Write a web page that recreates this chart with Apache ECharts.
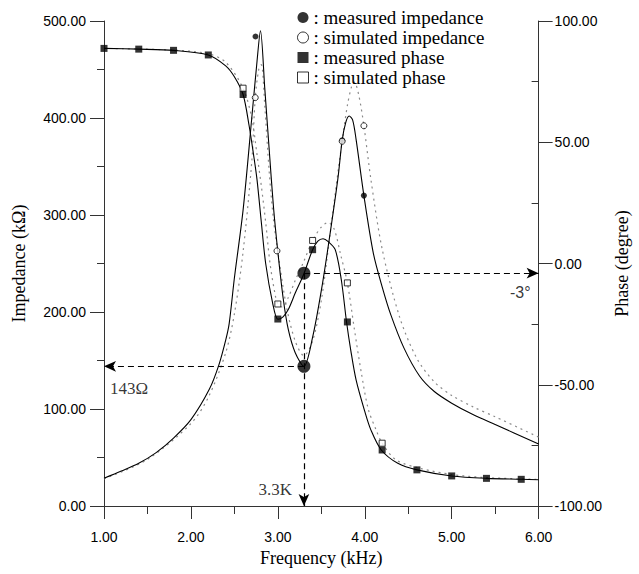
<!DOCTYPE html>
<html><head><meta charset="utf-8">
<script src="https://cdn.jsdelivr.net/npm/echarts@6/dist/echarts.min.js"></script>
<style>html,body{margin:0;padding:0;background:#fff}#c{width:639px;height:574px}</style>
</head><body><div id="c"></div>
<script>
// ---- axis ranges / ticks ----
const freqMin = 1, freqMax = 6, freqStep = 1;
const impMin = 0, impMax = 500, impStep = 100;
const phMin = -100, phMax = 100, phStep = 50;
const phInnerTicks = [-75, -25, 25, 75];

// ---- fitted / measured impedance curve (kOhm) ----
const impMeasF = [1.0,1.2,1.4,1.6,1.8,2.0,2.21,2.32,2.4,2.44,2.5,2.6,2.7,2.76,2.8,2.85,2.9,2.95,3.0,3.06,3.12,3.2,3.3,3.4,3.5,3.58,3.69,3.74,3.78,3.82,3.86,3.9,3.99,4.1,4.2,4.3,4.45,4.63,4.8,5.0,5.25,5.5,6.0];
const impMeasZ = [28.6,36,44,55,70,89,120,145,171,188,235,305,400,458,490,430,368,308,262,215,182,158,144,174,222,268,337,377,395,402,398,378,320,260,226,197,163,134,118,106,94,84,64];

// ---- simulated impedance curve ----
const impSimF = [1.0,1.5,2.0,2.2,2.4,2.5,2.6,2.7,2.74,2.78,2.81,2.85,2.9,2.95,3.0,3.1,3.2,3.3,3.4,3.5,3.6,3.7,3.74,3.8,3.85,3.88,3.93,3.99,4.07,4.2,4.4,4.6,4.8,5.0,5.25,5.5,6.0];
const impSimZ = [28,48,85,112,158,198,262,355,421,450,455,412,345,295,262,205,170,155,170,212,280,350,376,413,433,437,424,392,337,265,195,152,128,114,102,92,71];

// ---- measured phase curve (degree) ----
const phMeasF = [1.0,1.4,1.8,2.2,2.4,2.5,2.6,2.67,2.72,2.76,2.81,2.86,2.94,3.0,3.06,3.12,3.2,3.3,3.4,3.46,3.52,3.58,3.66,3.73,3.79,3.84,3.9,4.0,4.07,4.19,4.38,4.6,5.0,5.4,5.8,6.0];
const phMeasV = [88.7,88.4,87.9,86.0,81.5,77,69.7,56.7,45,34.7,17,0,-16.3,-23,-22,-19,-12.2,-4.2,5.7,9.2,10.2,9,5.7,-6.7,-24,-36,-48,-61,-68.6,-76.9,-82.4,-85.1,-87.6,-88.6,-89.0,-89.2];

// ---- simulated phase curve ----
const phSimF = [1.0,1.8,2.2,2.4,2.6,2.7,2.76,2.81,2.86,2.91,2.97,3.0,3.05,3.12,3.2,3.3,3.4,3.5,3.58,3.65,3.72,3.8,3.88,3.96,4.04,4.13,4.2,4.36,4.64,5.0,5.4,6.0];
const phSimV = [88.7,88,86.5,83,72.3,60,45,32,17,0,-13,-16.7,-18,-14,-7,1,9.5,15,17,14,4,-8,-27,-45,-60,-68.6,-74.1,-81,-84.5,-87,-88.3,-89];

// ---- marker points ----
const impMeasPtF = [2.743,3.74,3.99];
const impMeasPtZ = [484,377,320];
const impSimPtF = [2.74,2.99,3.74,3.99];
const impSimPtZ = [421,263,376,392];
const phMeasPtF = [1.0,1.4,1.8,2.2,2.6,3.0,3.4,3.8,4.2,4.6,5.0,5.4,5.8];
const phMeasPtV = [88.7,88.4,87.9,86.0,69.7,-22.9,5.7,-24.1,-76.9,-85.1,-87.6,-88.6,-89.0];
const phSimPtF = [2.6,3.0,3.4,3.8,4.2];
const phSimPtV = [72.3,-16.7,9.5,-8.0,-74.1];

// ---- resonance annotation ----
const markF = 3.3, markZ = 144, markPhase = -4;
const impAnnoF = [1.0, 3.3];
const impAnnoV = [121, 16.6];
const impAnnoText = ['143Ω', '3.3K'];
const phAnnoF = [6.0];
const phAnnoV = [-12];
const phAnnoText = ['-3°'];

// ---- legend names ----
const legendNames = ['measured impedance','simulated impedance','measured phase','simulated phase'];

const zip = (a, b) => a.map((v, i) => [v, b[i]]);
const serif = 'Liberation Serif, Times New Roman, serif';
const sans = 'Liberation Sans, Arial, sans-serif';
const axisCol = '#333';

const chart = echarts.init(document.getElementById('c'), null, {renderer: 'svg'});
const fmt2 = v => v.toFixed(2);

const solid = {color: '#000', width: 1.1};
const dotted = {color: '#8a8a8a', width: 1.2, type: [2, 4]};

chart.setOption({
  animation: false,
  backgroundColor: '#fff',
  grid: {left: 104, right: 97, top: 21, bottom: 68},
  legend: {
    orient: 'vertical', left: 297, top: 8, padding: 0,
    itemWidth: 11, itemHeight: 11, itemGap: 1, selectedMode: false,
    formatter: n => ': ' + n,
    textStyle: {fontFamily: serif, fontSize: 19, color: '#000'},
    data: [
      {name: legendNames[0], icon: 'circle', itemStyle: {color: '#000', borderWidth: 0}},
      {name: legendNames[1], icon: 'circle', itemStyle: {color: '#fff', borderColor: '#000', borderWidth: 1}},
      {name: legendNames[2], icon: 'rect', itemStyle: {color: '#000', borderWidth: 0}},
      {name: legendNames[3], icon: 'rect', itemStyle: {color: '#fff', borderColor: '#000', borderWidth: 1}}
    ]
  },
  xAxis: {
    type: 'value', min: freqMin, max: freqMax, interval: freqStep,
    axisLine: {lineStyle: {color: axisCol, width: 1}},
    axisTick: {length: 13, lineStyle: {color: axisCol}},
    minorTick: {show: true, splitNumber: 2, length: 8, lineStyle: {color: axisCol}},
    splitLine: {show: false},
    axisLabel: {formatter: fmt2, fontFamily: sans, fontSize: 14, color: '#000', margin: 24},
    name: 'Frequency (kHz)', nameLocation: 'middle', nameGap: 36,
    nameTextStyle: {fontFamily: serif, fontSize: 18, color: '#000'}
  },
  yAxis: [
    {
      type: 'value', position: 'left', min: impMin, max: impMax, interval: impStep,
      axisLine: {show: true, lineStyle: {color: axisCol, width: 1}},
      axisTick: {show: true, length: 14, lineStyle: {color: axisCol}},
      minorTick: {show: true, splitNumber: 2, length: 7, lineStyle: {color: axisCol}},
      splitLine: {show: false},
      axisLabel: {formatter: fmt2, fontFamily: sans, fontSize: 14, color: '#000', margin: 18},
      name: 'Impedance (kΩ)', nameLocation: 'middle', nameRotate: 90, nameGap: 76,
      nameTextStyle: {fontFamily: serif, fontSize: 18, color: '#000'}
    },
    {
      type: 'value', position: 'right', min: phMin, max: phMax, interval: phStep,
      axisLine: {show: true, lineStyle: {color: axisCol, width: 1}},
      axisTick: {show: true, length: 14, lineStyle: {color: axisCol}},
      splitLine: {show: false},
      axisLabel: {formatter: fmt2, fontFamily: sans, fontSize: 14, color: '#000', margin: 16},
      name: 'Phase (degree)', nameLocation: 'middle', nameRotate: 90, nameGap: 68,
      nameTextStyle: {fontFamily: serif, fontSize: 18, color: '#000'}
    },
    {
      type: 'value', position: 'right', min: phMin, max: phMax, interval: phStep,
      axisLine: {show: false},
      axisTick: {show: true, inside: true, length: 7, customValues: phInnerTicks, lineStyle: {color: axisCol}},
      axisLabel: {show: false},
      splitLine: {show: false}
    }
  ],
  series: [
    {name: 'imp-sim-curve', type: 'line', yAxisIndex: 0, data: zip(impSimF, impSimZ), showSymbol: false, symbol: 'none', smooth: 0.3, lineStyle: dotted, z: 2},
    {name: 'ph-sim-curve', type: 'line', yAxisIndex: 1, data: zip(phSimF, phSimV), showSymbol: false, symbol: 'none', smooth: 0.3, lineStyle: dotted, z: 2},
    {name: 'imp-meas-curve', type: 'line', yAxisIndex: 0, data: zip(impMeasF, impMeasZ), showSymbol: false, symbol: 'none', smooth: 0.3, lineStyle: solid, z: 3},
    {name: 'ph-meas-curve', type: 'line', yAxisIndex: 1, data: zip(phMeasF, phMeasV), showSymbol: false, symbol: 'none', smooth: 0.3, lineStyle: solid, z: 3},
    {name: legendNames[0], type: 'scatter', yAxisIndex: 0, data: zip(impMeasPtF, impMeasPtZ), symbol: 'circle', symbolSize: 6, itemStyle: {color: '#000'}, z: 5},
    {name: legendNames[1], type: 'scatter', yAxisIndex: 0, data: zip(impSimPtF, impSimPtZ), symbol: 'circle', symbolSize: 6, itemStyle: {color: '#fff', borderColor: '#000', borderWidth: 1}, z: 5},
    {name: legendNames[2], type: 'scatter', yAxisIndex: 1, data: zip(phMeasPtF, phMeasPtV), symbol: 'rect', symbolSize: 7, itemStyle: {color: '#000'}, z: 5},
    {name: legendNames[3], type: 'scatter', yAxisIndex: 1, data: zip(phSimPtF, phSimPtV), symbol: 'rect', symbolSize: 6, itemStyle: {color: '#fff', borderColor: '#000', borderWidth: 1}, z: 5},
    {
      name: 'res-imp', type: 'scatter', yAxisIndex: 0, data: [[markF, markZ]], symbol: 'circle', symbolSize: 13,
      itemStyle: {color: '#000'}, z: 6,
      markLine: {
        silent: true, symbol: ['none', 'arrow'], symbolSize: [8, 12], precision: 4,
        lineStyle: {color: '#000', width: 1.2, type: [6, 4]}, label: {show: false},
        data: [[{coord: [markF, markZ]}, {coord: [freqMin, markZ]}]]
      }
    },
    {
      name: 'res-ph', type: 'scatter', yAxisIndex: 1, data: [[markF, markPhase]], symbol: 'circle', symbolSize: 13,
      itemStyle: {color: '#000'}, z: 6,
      markLine: {
        silent: true, symbol: ['none', 'arrow'], symbolSize: [8, 12], precision: 4,
        lineStyle: {color: '#000', width: 1.2, type: [6, 4]}, label: {show: false},
        data: [
          [{coord: [markF, markPhase]}, {coord: [freqMax, markPhase]}],
          [{coord: [markF, markPhase]}, {coord: [markF, phMin]}]
        ]
      }
    },
    {
      name: 'anno-imp', type: 'scatter', yAxisIndex: 0, symbolSize: 0, silent: true, z: 7,
      data: impAnnoF.map((f, i) => ({value: [f, impAnnoV[i]], label: {
        show: true, formatter: impAnnoText[i], position: i === 0 ? 'right' : 'left', distance: i === 0 ? 6 : 12,
        fontFamily: serif, fontSize: 17, color: '#000'}}))
    },
    {
      name: 'anno-ph', type: 'scatter', yAxisIndex: 1, symbolSize: 0, silent: true, z: 7,
      data: phAnnoF.map((f, i) => ({value: [f, phAnnoV[i]], label: {
        show: true, formatter: phAnnoText[i], position: 'left', distance: 8,
        fontFamily: sans, fontSize: 16, color: '#000'}}))
    }
  ]
});
</script></body></html>
